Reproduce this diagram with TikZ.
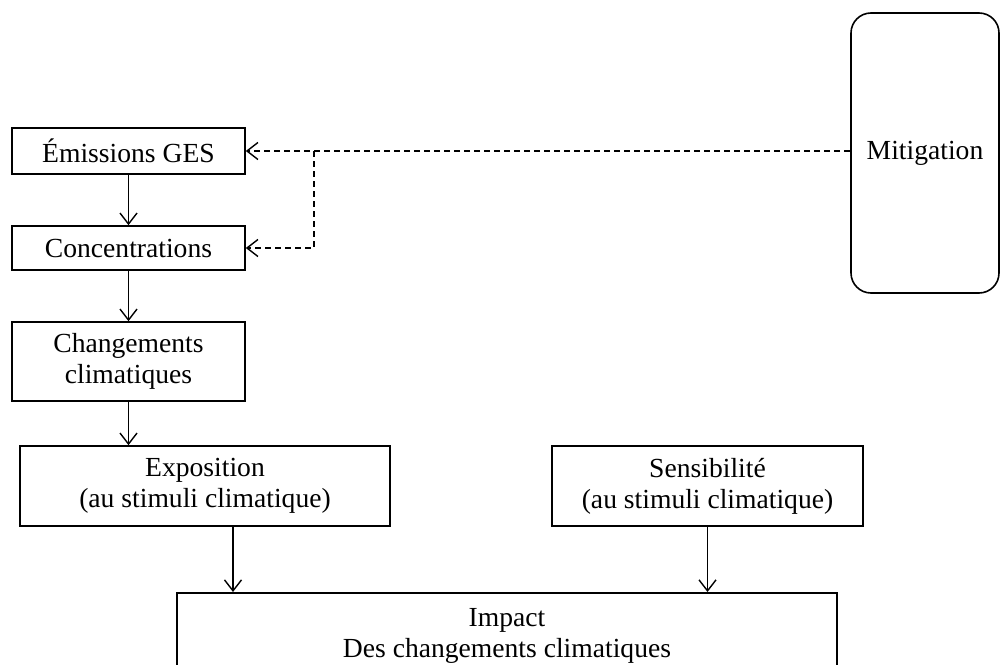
\documentclass[tikz,border=0pt]{standalone}
\usepackage{fontspec}
\setmainfont{Liberation Serif}
\usetikzlibrary{arrows.meta}

\tikzset{
    box/.style={draw, line width=0.8pt, inner sep=0pt, align=center,
        font=\fontsize{13.8}{15.6}\selectfont},
    link/.style={->, line width=0.7pt},
    mitlink/.style={->, line width=0.7pt, dash pattern=on 3pt off 2pt}
}

\begin{document}
\begin{tikzpicture}[>={Straight Barb[length=5.5pt,width=8.5pt]}, x=0.5pt, y=-0.5pt]
        \useasboundingbox (0,0) rectangle (1001,664);
        \clip (0,0) rectangle (1001,664);

        % left column
        \node [box, minimum width=116.5pt, minimum height=23pt] (emis) at (128.5,151) {Émissions GES};
        \node [box, minimum width=116.5pt, minimum height=22pt] (conc) at (128.5,248) {Concentrations};
        \node [box, minimum width=116.5pt, minimum height=39.5pt] (chang) at (128.5,361.5) {Changements\\climatiques};

        % middle row
        \node [box, minimum width=185pt, minimum height=40pt] (expo) at (205,486) {Exposition\\(au stimuli climatique)};
        \node [box, minimum width=155.5pt, minimum height=40pt] (sensi) at (707.5,486) {Sensibilité\\(au stimuli climatique)};

        % bottom, cut by the page edge
        \node [box, anchor=north, minimum width=330pt, minimum height=43pt] (impact) at (507,592) {Impact\\Des changements climatiques};

        % right
        \node [box, rounded corners=10pt, minimum width=74pt, minimum height=140pt] (mitig) at (925,153) {Mitigation};

        \draw [link] (emis) -- (conc);
        \draw [link] (conc) -- (chang);
        \draw [link] (chang.south) -- (chang.south |- expo.north);
        \draw [link] ([xshift=14pt]expo.south) -- ([xshift=14pt]expo.south |- impact.north);
        \draw [link] (sensi.south) -- (sensi.south |- impact.north);

        \coordinate (split) at ([xshift=34pt]emis.east);
        \draw [mitlink] (mitig.west |- emis.east) -- (emis.east);
        \draw [mitlink] (split) |- (conc.east);
    \end{tikzpicture}
\end{document}
